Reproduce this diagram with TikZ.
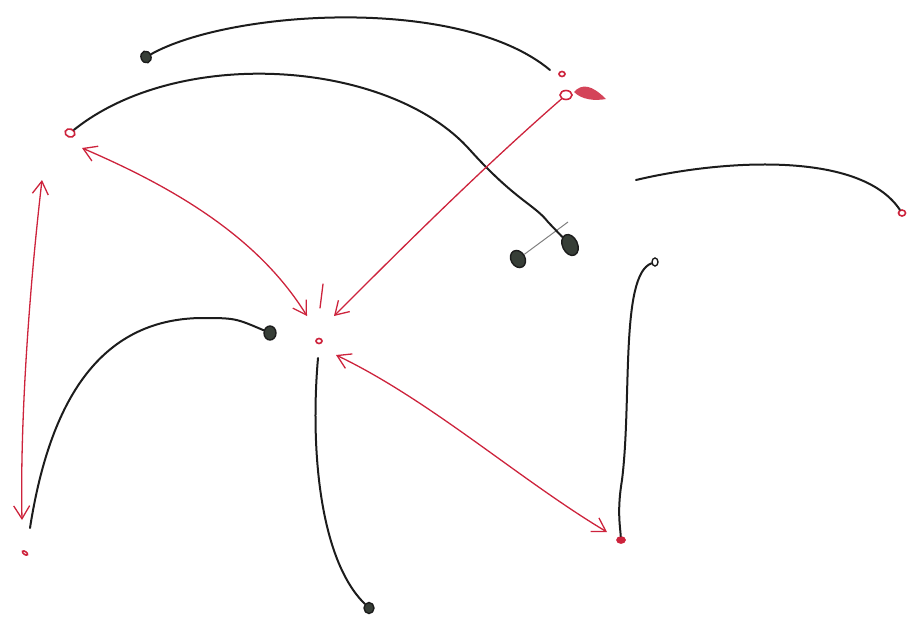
\documentclass[tikz,border=0pt]{standalone}
\usetikzlibrary{arrows.meta,shapes.geometric}
\definecolor{ink}{RGB}{28,28,28}
\definecolor{pen}{RGB}{205,35,60}
\definecolor{blob}{RGB}{55,62,55}
\tikzset{
  inkline/.style={draw=ink,line width=2pt,line cap=round},
  penline/.style={draw=pen,line width=1.3pt,line cap=round,
    arrows={Straight Barb[length=13pt,width=16pt,line width=1.3pt]-Straight Barb[length=13pt,width=16pt,line width=1.3pt]}},
  penone/.style={draw=pen,line width=1.3pt,line cap=round,
    -{Straight Barb[length=13pt,width=16pt,line width=1.3pt]}},
  reddot/.style={ellipse,draw=pen,line width=1.6pt,minimum width=10pt,minimum height=8pt,inner sep=0pt},
  blackdot/.style={ellipse,draw=ink,fill=blob,line width=1.4pt,minimum width=11pt,minimum height=13pt,inner sep=0pt},
}
\begin{document}
\begin{tikzpicture}[x=1pt,y=-1pt]
\useasboundingbox (0,0) rectangle (910,621);
% red dots
\node[reddot,rotate=-20] (A) at (70,133) {};
\node[reddot,minimum width=12pt,minimum height=9pt] (B) at (566,95) {};
\node[reddot,minimum width=6pt,minimum height=5pt] (C) at (319,341) {};
\node[reddot,minimum width=6pt,minimum height=3pt,rotate=-35] (D) at (25,553) {};
\node[reddot,minimum width=8pt,minimum height=6pt,fill=pen] (E) at (621,540) {};
\node[reddot,minimum width=7pt,minimum height=6pt] (F) at (902,213) {};
\node[reddot,minimum width=6pt,minimum height=5pt] (G) at (562,74) {};
\fill[pen,opacity=0.85] (574,92) .. controls (582,83) and (592,85) .. (606,99) .. controls (595,101) and (582,100) .. (574,92) -- cycle;
% black dots
\node[blackdot,minimum width=10pt,minimum height=12pt,rotate=20] (K1) at (146,57) {};
\node[blackdot,minimum width=12pt,minimum height=14pt] (K2) at (270,333) {};
\node[blackdot,minimum width=14pt,minimum height=18pt,rotate=30] (K3) at (518,259) {};
\node[blackdot,minimum width=15pt,minimum height=22pt,rotate=25] (K4) at (570,245) {};
\node[blackdot,minimum width=10pt,minimum height=11pt] (K5) at (369,608) {};
\node[blackdot,minimum width=6pt,minimum height=8pt,fill=white] (K6) at (655,262) {};
% free ends
\coordinate (e1) at (550,70);
\coordinate (e3) at (636,180);
\coordinate (e4) at (30,528);
\coordinate (e5) at (318,358);
% grey line across blobs
\draw[gray,line width=1pt] (K3) -- (568,222);
% black curves
\draw[inkline] (K1) .. controls (230,10) and (460,-5) .. (e1);
\draw[inkline] (A) .. controls (180,45) and (390,60) .. (470,150) .. controls (515,200) and (535,205) .. (548,222) -- (K4);
\draw[inkline] (e3) .. controls (720,160) and (860,150) .. (F);
\draw[inkline] (e4) .. controls (50,400) and (100,320) .. (200,318) .. controls (235,318) .. (K2);
\draw[inkline] (e5) .. controls (310,450) and (320,560) .. (K5);
\draw[inkline] (K6) .. controls (620,275) and (632,400) .. (622,480) .. controls (617,510) and (620,525) .. (E);
% red arrows
\coordinate (a1) at (82,148);
\coordinate (c1) at (307,316);
\coordinate (c2) at (334,316);
\coordinate (c3) at (336,355);
\coordinate (l1) at (42,180);
\coordinate (l2) at (22,520);
\coordinate (r1) at (607,532);
\draw[penline] (a1) .. controls (180,190) and (260,240) .. (c1);
\draw[penone] (B) .. controls (480,170) and (400,250) .. (c2);
\draw[penline] (l1) .. controls (28,300) and (20,430) .. (l2);
\draw[penline] (c3) .. controls (430,400) and (520,480) .. (r1);
\draw[pen,line width=1.3pt,line cap=round] (323,284) -- (320,308);
\end{tikzpicture}
\end{document}
